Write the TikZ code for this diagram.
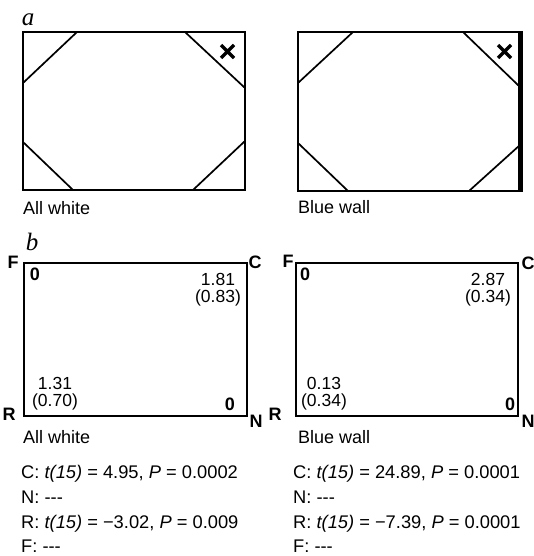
\documentclass[tikz,border=0pt]{standalone}
\usepackage{fontspec}
\setmainfont{Liberation Sans}
\newfontfamily\serifit{Liberation Serif}
\begin{document}
\begin{tikzpicture}[x=1pt,y=-1pt,
  wall/.style={line width=1.8pt},
  cut/.style={line width=1.7pt},
  bluewall/.style={line width=5pt},
  xmark/.style={line width=3.4pt},
  lbl/.style={font=\fontsize{18}{20}\selectfont, inner sep=0pt},
  val/.style={font=\fontsize{17.5}{20}\selectfont, inner sep=0pt, anchor=base},
  stat/.style={font=\fontsize{18.3}{22}\selectfont, inner sep=0pt, anchor=base west},
  corner/.style={font=\fontsize{18}{18}\selectfont\bfseries, inner sep=0pt},
  panel/.style={font=\fontsize{25}{25}\selectfont\serifit\itshape, inner sep=0pt}]
\useasboundingbox (0,0) rectangle (534,556);

% ---------- panel a ----------
\node[panel] (pa) at (28,20) {a};
% left room
\draw[wall] (23,32) rectangle (245,190);
\draw[cut] (77,32) -- (23,83);
\draw[cut] (185,32) -- (245,88);
\draw[cut] (23,142) -- (73,190);
\draw[cut] (193,190) -- (245,141);
\draw[xmark] (221,45) -- (234,58) (221,58) -- (234,45);
\node[lbl, anchor=west] (aw1) at (23,208) {All white};
% right room
\draw[wall] (298,32) rectangle (520,191);
\draw[bluewall] (520,31) -- (520,192);
\draw[cut] (353,32) -- (298,83);
\draw[cut] (463,32) -- (520,87);
\draw[cut] (298,143) -- (348,191);
\draw[cut] (469,191) -- (520,145);
\draw[xmark] (498,45) -- (511,58) (498,58) -- (511,45);
\node[lbl, anchor=west] (bw1) at (298,207) {Blue wall};

% ---------- panel b ----------
\node[panel] (pb) at (32,242) {b};
% left room
\draw[wall] (24,263) rectangle (247,416);
\node[corner] (F1) at (13,262) {F};
\node[corner] (C1) at (255,262) {C};
\node[corner] (R1) at (9,414) {R};
\node[corner] (N1) at (256,421) {N};
\node[corner] (z1) at (35,274) {0};
\node[corner] (z2) at (230,404) {0};
\node[val] (v1) at (218,285) {1.81};
\node[val] (v2) at (218,302) {(0.83)};
\node[val] (v3) at (55,389) {1.31};
\node[val] (v4) at (55,406) {(0.70)};
\node[lbl, anchor=west] (aw2) at (23,437) {All white};
\node[stat] (s1) at (21,478) {C: \textit{t(15)} = 4.95, \textit{P} = 0.0002};
\node[stat] (s2) at (21,503) {N: -{}-{}-};
\node[stat] (s3) at (21,528) {R: \textit{t(15)} = −3.02, \textit{P} = 0.009};
\node[stat] (s4) at (21,552) {F: -{}-{}-};
% right room
\draw[wall] (296,263) rectangle (518,416);
\node[corner] (F2) at (288,261) {F};
\node[corner] (C2) at (528,263) {C};
\node[corner] (R2) at (275,414) {R};
\node[corner] (N2) at (528,421) {N};
\node[corner] (z3) at (305,274) {0};
\node[corner] (z4) at (510,404) {0};
\node[val] (w1) at (488,285) {2.87};
\node[val] (w2) at (488,302) {(0.34)};
\node[val] (w3) at (324,389) {0.13};
\node[val] (w4) at (324,406) {(0.34)};
\node[lbl, anchor=west] (bw2) at (298,437) {Blue wall};
\node[stat] (t1) at (293,478) {C: \textit{t(15)} = 24.89, \textit{P} = 0.0001};
\node[stat] (t2) at (293,503) {N: -{}-{}-};
\node[stat] (t3) at (293,528) {R: \textit{t(15)} = −7.39, \textit{P} = 0.0001};
\node[stat] (t4) at (293,552) {F: -{}-{}-};
\end{tikzpicture}
\end{document}
